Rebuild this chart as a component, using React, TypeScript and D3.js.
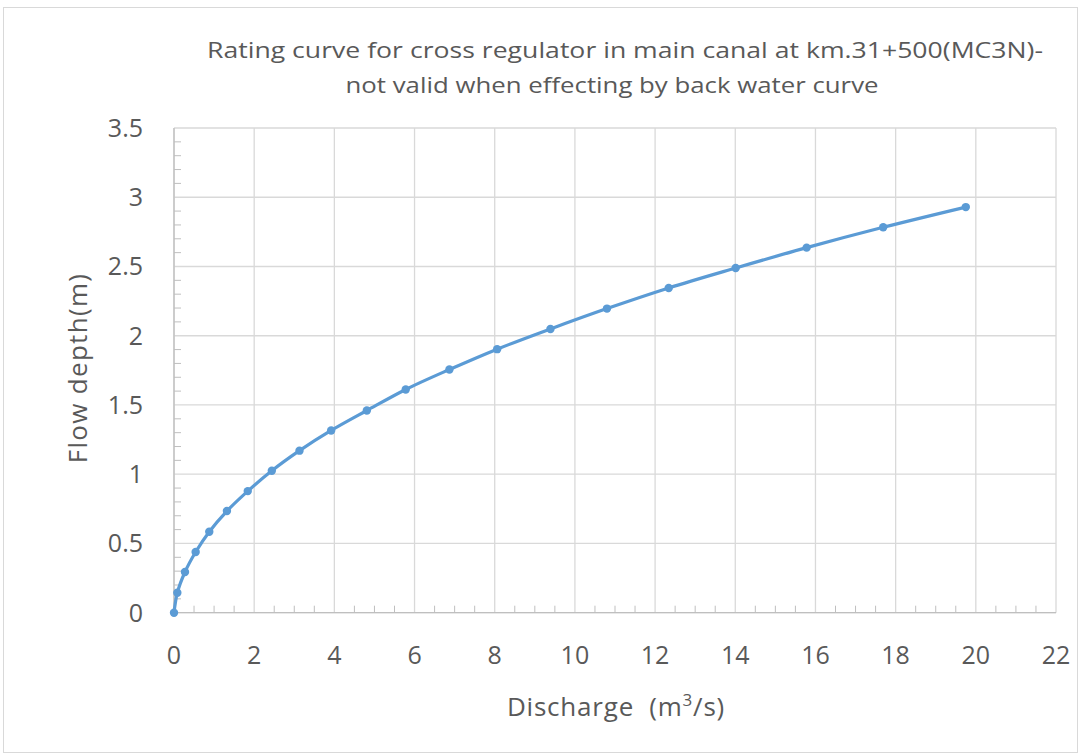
import React from "react";
import * as d3 from "d3";

const discharge = [0, 0.083, 0.274, 0.54, 0.88, 1.32, 1.84, 2.44, 3.13, 3.92, 4.81, 5.78, 6.87, 8.06, 9.39, 10.8, 12.34, 14.01, 15.78, 17.69, 19.75];
const depth = [0, 0.144, 0.294, 0.438, 0.585, 0.734, 0.878, 1.025, 1.17, 1.316, 1.46, 1.612, 1.756, 1.903, 2.049, 2.196, 2.345, 2.489, 2.636, 2.783, 2.929];
const xTicks = [0, 2, 4, 6, 8, 10, 12, 14, 16, 18, 20, 22];
const yTicks = [0, 0.5, 1, 1.5, 2, 2.5, 3, 3.5];
const titleLines = [
  "Rating curve for cross regulator in main canal at km.31+500(MC3N)-",
  "not valid when effecting by back water curve",
];

const W = 1081;
const H = 755;
const FONT = "'Open Sans', Lato, sans-serif";

export default function App() {
  const x = d3.scaleLinear().domain([0, 22]).range([174, 1056]);
  const y = d3.scaleLinear().domain([0, 3.5]).range([612.7, 128]);
  const pts = discharge.map((d, i) => [x(d), y(depth[i])] as [number, number]);
  const line = d3.line().curve(d3.curveCatmullRom.alpha(0.5))(pts) || "";
  const xMinor = d3.range(0, 22.001, 0.5).filter((v) => Math.abs(v % 2) > 1e-6);
  const yMinor = d3.range(0, 3.5001, 0.1).filter((v) => Math.abs((v * 10) % 5) > 1e-6);
  const grid = "#d9d9d9";
  const axis = "#bfbfbf";
  const text = "#595959";
  const titlePos = [
    { cx: 625, cy: 58, w: 836 },
    { cx: 612, cy: 93, w: 533 },
  ];
  return (
    <svg width={W} height={H} style={{ position: "absolute", left: 0, top: 0 }} fontFamily={FONT}>
      <rect x={0} y={0} width={W} height={H} fill="#fff" />
      <rect x={3.5} y={7.5} width={1074} height={745} fill="none" stroke={grid} />
      {titleLines.map((t, i) => (
        <text key={i} x={titlePos[i].cx} y={titlePos[i].cy} textAnchor="middle" fontSize={21} fill={text}
          textLength={titlePos[i].w} lengthAdjust="spacingAndGlyphs">
          {t}
        </text>
      ))}
      {xTicks.map((v) => (
        <line key={"gx" + v} x1={x(v)} x2={x(v)} y1={y(0)} y2={y(3.5)} stroke={grid} strokeWidth={1.3} />
      ))}
      {yTicks.map((v) => (
        <line key={"gy" + v} x1={x(0)} x2={x(22)} y1={y(v)} y2={y(v)} stroke={grid} strokeWidth={1.3} />
      ))}
      {xMinor.map((v) => (
        <line key={"mx" + v} x1={x(v)} x2={x(v)} y1={y(0)} y2={y(0) - 7} stroke={axis} strokeWidth={1} />
      ))}
      {yMinor.map((v) => (
        <line key={"my" + v} x1={x(0)} x2={x(0) + 7} y1={y(v)} y2={y(v)} stroke={axis} strokeWidth={1} />
      ))}
      <line x1={x(0)} x2={x(22)} y1={y(0)} y2={y(0)} stroke={axis} strokeWidth={1.3} />
      <line x1={x(0)} x2={x(0)} y1={y(0)} y2={y(3.5)} stroke={axis} strokeWidth={1.3} />
      {xTicks.map((v) => (
        <text key={"tx" + v} x={x(v)} y={664} textAnchor="middle" fontSize={25} fill={text}>
          {v}
        </text>
      ))}
      {yTicks.map((v) => (
        <text key={"ty" + v} x={143} y={y(v) + 9} textAnchor="end" fontSize={25} fill={text}>
          {v}
        </text>
      ))}
      <text x={616} y={716} textAnchor="middle" fontSize={26} letterSpacing={0.8} fill={text}>
        Discharge{"\u00a0\u00a0"}(m<tspan dy={-10} fontSize={17}>3</tspan><tspan dy={10}>/s)</tspan>
      </text>
      <text transform={`translate(87,368) rotate(-90)`} textAnchor="middle" fontSize={26} letterSpacing={1.3} fill={text}>
        Flow depth(m)
      </text>
      <path d={line} fill="none" stroke="#5b9bd5" strokeWidth={3.2} strokeLinecap="round" />
      {pts.map((p, i) => (
        <circle key={i} cx={p[0]} cy={p[1]} r={4.2} fill="#5b9bd5" />
      ))}
    </svg>
  );
}
